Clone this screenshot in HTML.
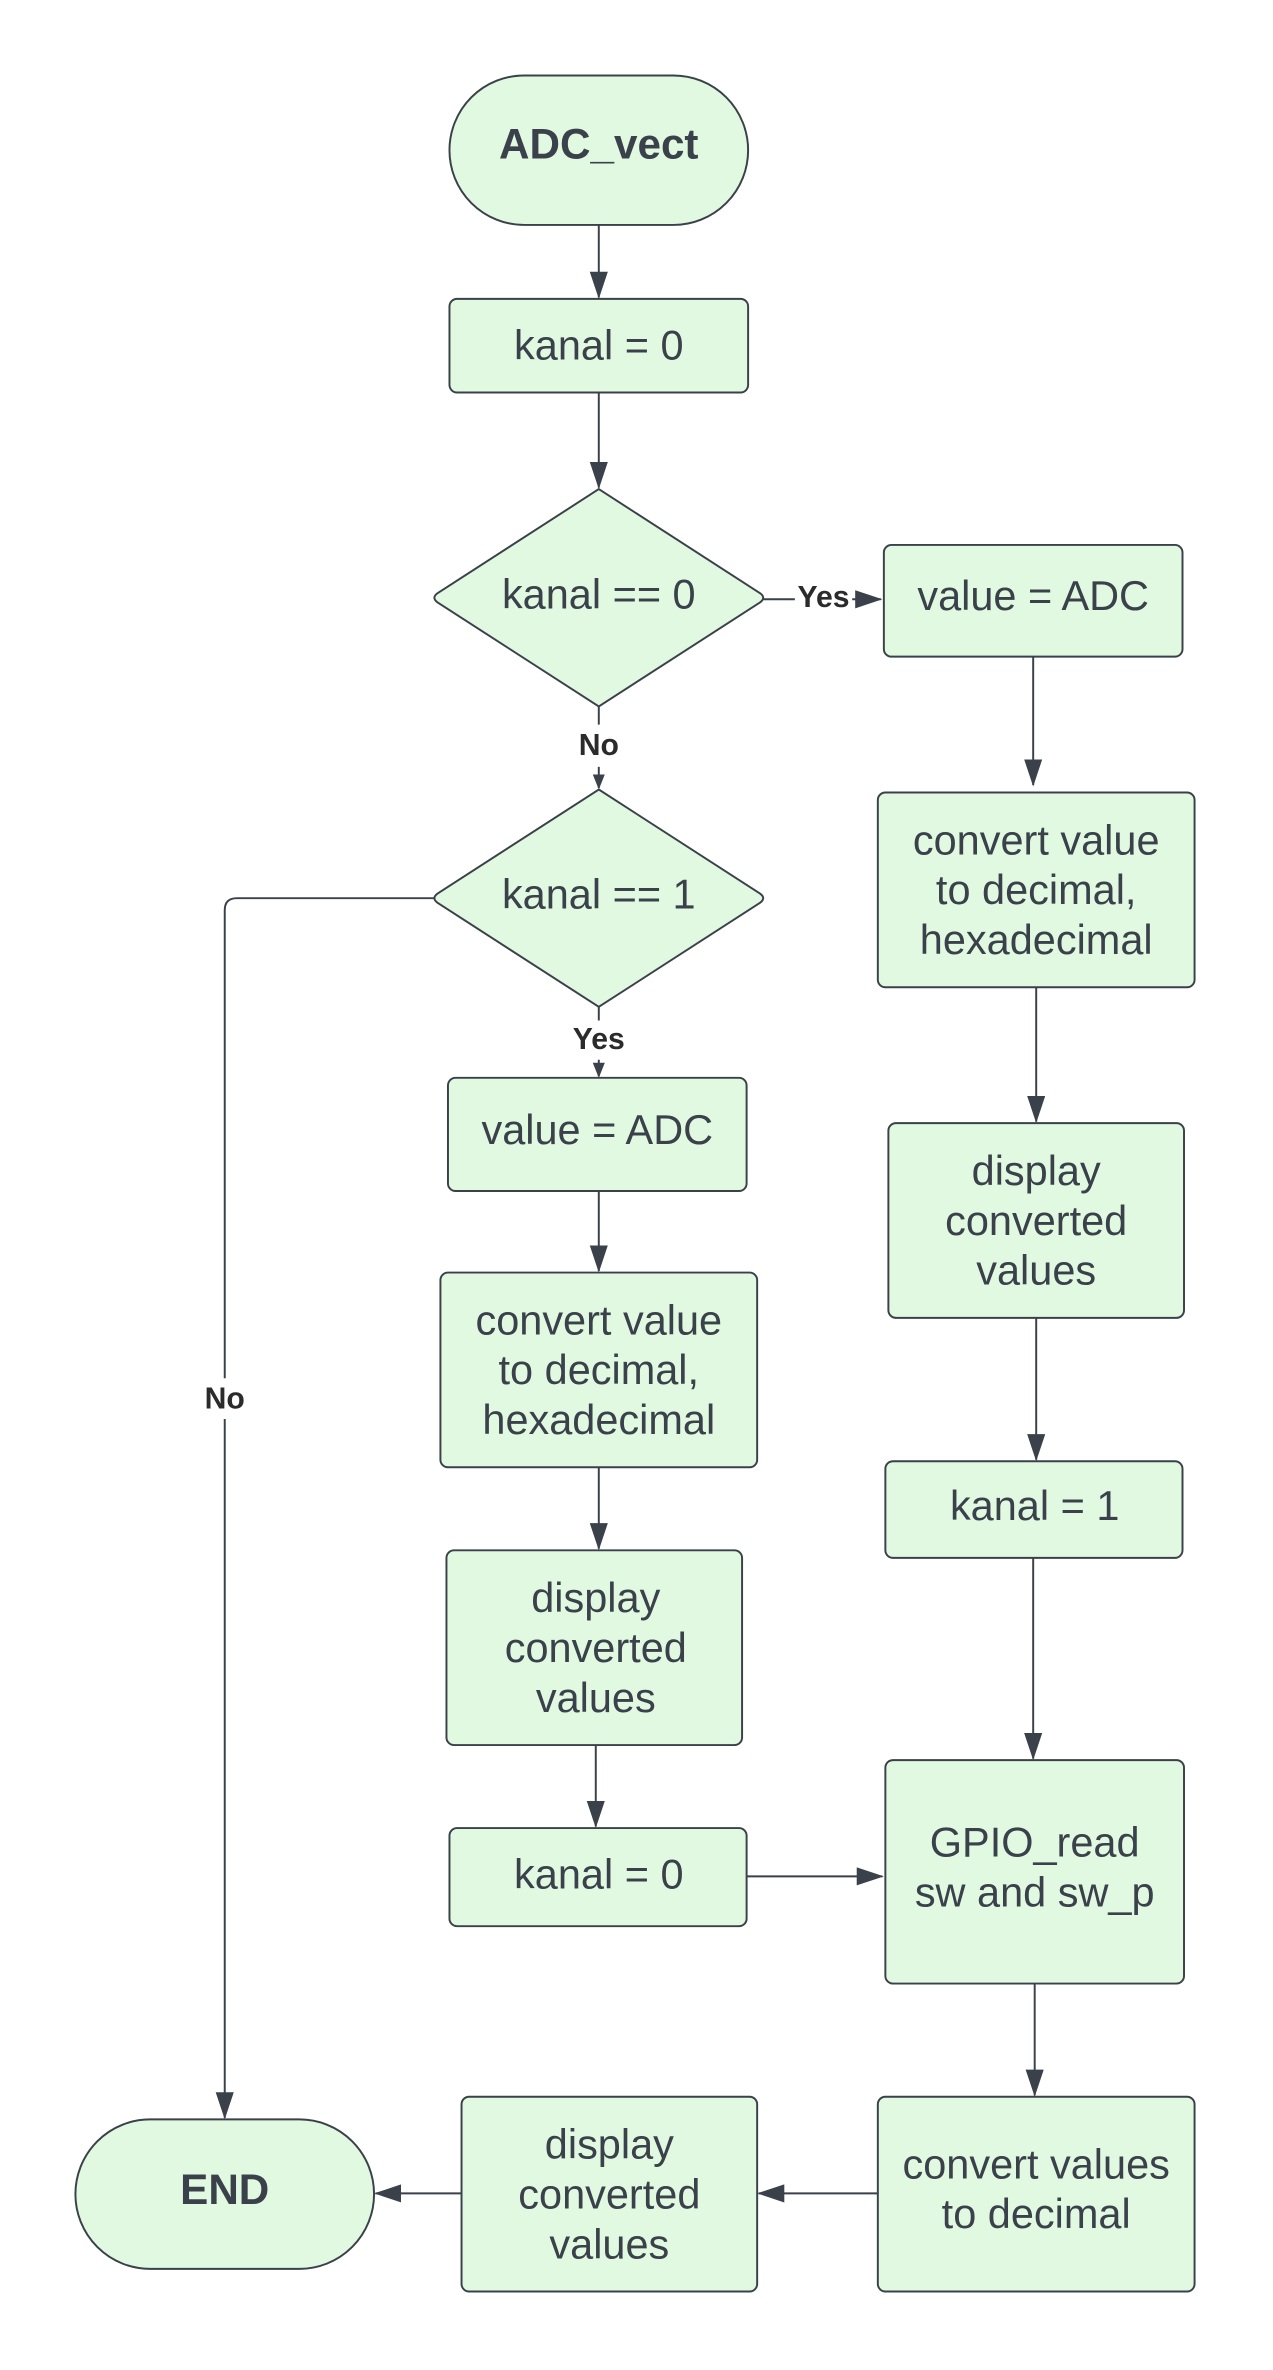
<!DOCTYPE html>
<html><head><meta charset="utf-8"><style>html,body{margin:0;padding:0;background:#fff}svg{display:block}</style></head>
<body>
<svg width="1273" height="2370" viewBox="0 0 844 1570" preserveAspectRatio="none" xmlns="http://www.w3.org/2000/svg">
<defs>
<marker id="a" markerWidth="10" markerHeight="10" refX="9" refY="5" orient="auto" markerUnits="userSpaceOnUse" viewBox="0 0 10 10">
<path d="M0,1 L10,5 L0,9 Z" fill="#3a414a"/></marker>
<marker id="b" markerWidth="18" markerHeight="12" refX="17" refY="6" orient="auto" markerUnits="userSpaceOnUse" viewBox="0 0 18 12">
<path d="M0,0 L18,6 L0,12 Z" fill="#3a414a"/></marker>
</defs>
<g fill="none" stroke="#3a414a" stroke-width="1.3">
<path d="M397,149 V197" marker-end="url(#b)"/>
<path d="M397,260 V323" marker-end="url(#b)"/>
<path d="M506,397 H527 M565,397 H584" marker-end="url(#b)"/>
<path d="M397,468 V480 M397,508 V522" marker-end="url(#a)"/>
<path d="M397,667 V676 M397,702 V713" marker-end="url(#a)"/>
<path d="M288,595 H157 Q149,595 149,603 V913 M149,940 V1403" marker-end="url(#b)"/>
<path d="M685,435 V520" marker-end="url(#b)"/>
<path d="M687,654 V743" marker-end="url(#b)"/>
<path d="M687,873 V967" marker-end="url(#b)"/>
<path d="M685,1032 V1165" marker-end="url(#b)"/>
<path d="M686,1314 V1388" marker-end="url(#b)"/>
<path d="M582,1453 H503" marker-end="url(#b)"/>
<path d="M306,1453 H249" marker-end="url(#b)"/>
<path d="M397,789 V842" marker-end="url(#b)"/>
<path d="M397,972 V1026" marker-end="url(#b)"/>
<path d="M395,1156 V1210" marker-end="url(#b)"/>
<path d="M495,1243 H585" marker-end="url(#b)"/>
</g>
<g fill="#e1f9e1" stroke="#3a414a" stroke-width="1.3">
<rect x="298" y="50" width="198" height="99" rx="49.5"/>
<rect x="298" y="198" width="198" height="62" rx="5"/>
<path d="M397,324 L504,393 Q508,396 504,399 L397,468 L290,399 Q286,396 290,393 Z"/>
<rect x="586" y="361" width="198" height="74" rx="5"/>
<rect x="582" y="525" width="210" height="129" rx="5"/>
<rect x="589" y="744" width="196" height="129" rx="5"/>
<rect x="587" y="968" width="197" height="64" rx="5"/>
<rect x="587" y="1166" width="198" height="148" rx="5"/>
<rect x="582" y="1389" width="210" height="129" rx="5"/>
<rect x="306" y="1389" width="196" height="129" rx="5"/>
<rect x="50" y="1404" width="198" height="99" rx="49.5"/>
<path d="M397,523 L504,592 Q508,595 504,598 L397,667 L290,598 Q286,595 290,592 Z"/>
<rect x="297" y="714" width="198" height="75" rx="5"/>
<rect x="292" y="843" width="210" height="129" rx="5"/>
<rect x="296" y="1027" width="196" height="129" rx="5"/>
<rect x="298" y="1211" width="197" height="65" rx="5"/>
</g>
<g font-family="Liberation Sans, sans-serif" font-size="27.5" fill="#3a414a" text-anchor="middle">
<text x="397" y="105" font-weight="bold" font-size="28">ADC_vect</text>
<text x="397" y="238">kanal = 0</text>
<text x="397" y="403">kanal == 0</text>
<text x="685" y="404">value = ADC</text>
<text x="687" y="566">convert value</text>
<text x="687" y="599">to decimal,</text>
<text x="687" y="632">hexadecimal</text>
<text x="687" y="785">display</text>
<text x="687" y="818">converted</text>
<text x="687" y="851">values</text>
<text x="686" y="1007">kanal = 1</text>
<text x="686" y="1230">GPIO_read</text>
<text x="686" y="1263">sw and sw_p</text>
<text x="687" y="1443">convert values</text>
<text x="687" y="1476">to decimal</text>
<text x="404" y="1430">display</text>
<text x="404" y="1463">converted</text>
<text x="404" y="1496">values</text>
<text x="149" y="1460" font-weight="bold" font-size="28">END</text>
<text x="397" y="602">kanal == 1</text>
<text x="396" y="758">value = ADC</text>
<text x="397" y="884">convert value</text>
<text x="397" y="917">to decimal,</text>
<text x="397" y="950">hexadecimal</text>
<text x="395" y="1068">display</text>
<text x="395" y="1101">converted</text>
<text x="395" y="1134">values</text>
<text x="397" y="1251">kanal = 0</text>
</g>
<g font-family="Liberation Sans, sans-serif" font-size="20" font-weight="bold" fill="#2b2b2b" text-anchor="middle">
<text x="546" y="402">Yes</text>
<text x="397" y="500">No</text>
<text x="397" y="695">Yes</text>
<text x="149" y="933">No</text>
</g>
</svg>
</body></html>
